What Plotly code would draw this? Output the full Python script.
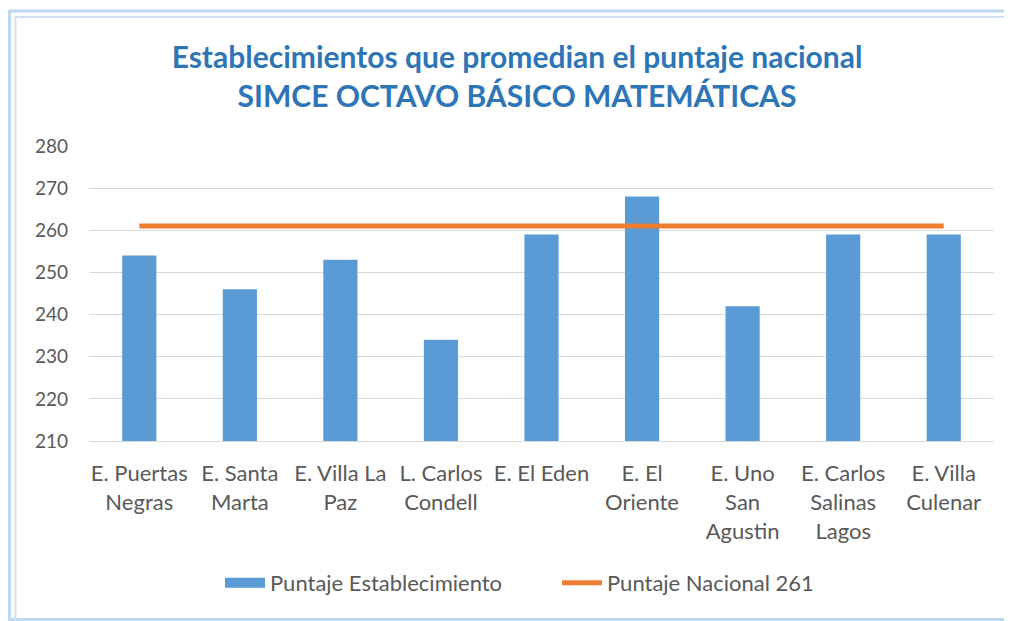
import plotly.graph_objects as go

categories = ["E. Puertas<br>Negras", "E. Santa<br>Marta", "E. Villa La<br>Paz", "L. Carlos<br>Condell",
              "E. El Eden", "E. El<br>Oriente", "E. Uno<br>San<br>Agustin", "E. Carlos<br>Salinas<br>Lagos",
              "E. Villa<br>Culenar"]
puntaje_establecimiento = [254, 246, 253, 234, 259, 268, 242, 259, 259]
puntaje_nacional = [261, 261, 261, 261, 261, 261, 261, 261, 261]
y_ticks = [210, 220, 230, 240, 250, 260, 270, 280]

FONT = "Lato, 'Noto Sans', sans-serif"
BLUE = "#5B9BD5"
ORANGE = "#ED7D31"
GREY = "#595959"

fig = go.Figure()
fig.add_trace(go.Bar(x=categories, y=[v - 210 for v in puntaje_establecimiento], base=210,
                     marker=dict(color=BLUE, line=dict(width=0)), width=0.34,
                     name="Puntaje Establecimiento", showlegend=False, hoverinfo="skip"))
# legend proxy for the bar series (wide rectangle like the original)
fig.add_trace(go.Scatter(x=[None], y=[None], mode="lines", line=dict(color=BLUE, width=14),
                         name="Puntaje Establecimiento", showlegend=True))
fig.add_trace(go.Scatter(x=categories, y=puntaje_nacional, mode="lines",
                         line=dict(color=ORANGE, width=5), name="Puntaje Nacional 261"))

# page body has an 8px margin, so the figure is placed 8px right/down
W, H = 1004, 613
L, R, T, B = 81, 18, 138, 180
pw, ph = W - L - R, H - T - B

def px(x):
    return (x - L) / pw

def py(y):
    return (H - B - y) / ph

shapes = [
    dict(type="rect", xref="paper", yref="paper", x0=px(1.5), x1=px(1030), y0=py(3), y1=py(611.5),
         line=dict(color="#BDD7EE", width=3), fillcolor="rgba(0,0,0,0)", layer="below"),
    dict(type="rect", xref="paper", yref="paper", x0=px(7.5), x1=px(1030), y0=py(9), y1=py(640),
         line=dict(color="#CFE2F3", width=2), fillcolor="rgba(0,0,0,0)", layer="below"),
]

fig.update_layout(
    width=W, height=H,
    margin=dict(l=L, r=R, t=T, b=B, autoexpand=False),
    paper_bgcolor="white", plot_bgcolor="white",
    font=dict(family=FONT, size=22, color=GREY),
    title=dict(text="<b>Establecimientos que promedian el puntaje nacional<br>SIMCE OCTAVO BÁSICO MATEMÁTICAS</b>",
               x=509 / W, xanchor="center", y=1 - 60 / H, yanchor="middle",
               font=dict(family=FONT, size=30, color="#2E75B6")),
    xaxis=dict(showgrid=False, showline=True, linecolor="#D9D9D9", linewidth=1,
               ticks="", tickfont=dict(size=22, color=GREY), ticklabelstandoff=13,
               tickangle=0, fixedrange=True),
    yaxis=dict(range=[210, 280], tickvals=y_ticks, showgrid=True, gridcolor="#D9D9D9", gridwidth=1,
               zeroline=False, showline=False, ticks="", tickfont=dict(size=19, color=GREY),
               ticklabelstandoff=20, fixedrange=True),
    legend=dict(orientation="h", x=212 / W, xanchor="left", xref="container",
                y=1 - 575 / H, yref="container", yanchor="middle",
                font=dict(size=22, color=GREY), itemwidth=40, tracegroupgap=0,
                entrywidth=282, entrywidthmode="pixels"),
    shapes=shapes,
    showlegend=True,
)

fig.write_html("out.html")
